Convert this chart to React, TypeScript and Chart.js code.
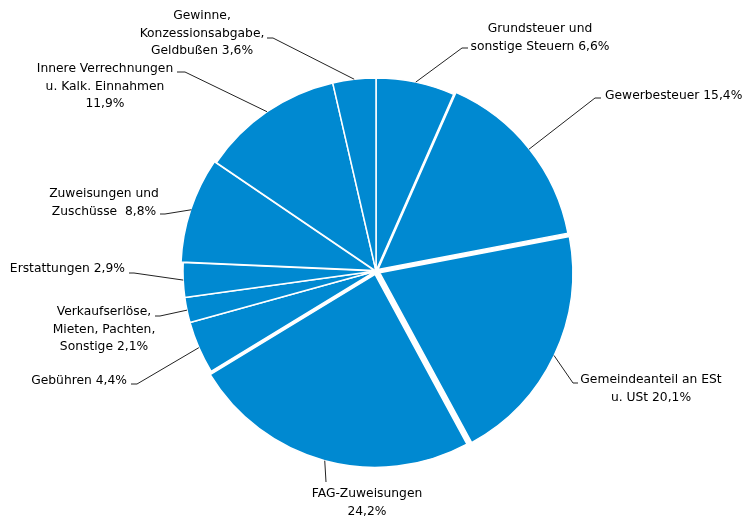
import React, { useEffect, useRef } from 'react';
import { Chart, registerables } from 'chart.js';

Chart.register(...registerables);

const CATEGORIES = [
  'Grundsteuer und sonstige Steuern',
  'Gewerbesteuer',
  'Gemeindeanteil an ESt u. USt',
  'FAG-Zuweisungen',
  'Gebühren',
  'Verkaufserlöse, Mieten, Pachten, Sonstige',
  'Erstattungen',
  'Zuweisungen und Zuschüsse',
  'Innere Verrechnungen u. Kalk. Einnahmen',
  'Gewinne, Konzessionsabgabe, Geldbußen',
];
const VALUES = [6.6, 15.4, 20.1, 24.2, 4.4, 2.1, 2.9, 8.8, 11.9, 3.6];
const LABEL_LINES = [
  ['Grundsteuer und', 'sonstige Steuern {v}'],
  ['Gewerbesteuer {v}'],
  ['Gemeindeanteil an ESt', 'u. USt {v}'],
  ['FAG-Zuweisungen', '{v}'],
  ['Gebühren {v}'],
  ['Verkaufserlöse,', 'Mieten, Pachten,', 'Sonstige {v}'],
  ['Erstattungen {v}'],
  ['Zuweisungen und', 'Zuschüsse  {v}'],
  ['Innere Verrechnungen', 'u. Kalk. Einnahmen', '{v}'],
  ['Gewinne,', 'Konzessionsabgabe,', 'Geldbußen {v}'],
];
// Chart.js arc offset is applied at 1/4 of its value
const OFFSETS = [0, 10, 16, 14, 0, 0, 0, 6, 0, 0];

// label placement relative to pie centre (elbow of leader, end of leader, first-line text anchor)
const LABEL_LAYOUT = [
  { elbow: [86, -223], end: [92, -223], text: [164, -239], align: 'center' },
  { elbow: [219, -173], end: [225, -173], text: [229, -172], align: 'left' },
  { elbow: [197, 112], end: [202, 112], text: [275, 112], align: 'center' },
  { elbow: [-50, 211], end: [-50, 211], text: [-9, 226], align: 'center' },
  { elbow: [-239, 113], end: [-245, 113], text: [-249, 113], align: 'right' },
  { elbow: [-216, 45], end: [-221, 45], text: [-272, 44], align: 'center' },
  { elbow: [-242, 2], end: [-247, 2], text: [-251, 1], align: 'right' },
  { elbow: [-211, -57], end: [-216, -57], text: [-272, -74], align: 'center' },
  { elbow: [-191, -199], end: [-199, -199], text: [-271, -199], align: 'center' },
  { elbow: [-103, -233], end: [-109, -233], text: [-174, -252], align: 'center' },
];

const fmt = (v: number) => v.toFixed(1).replace('.', ',') + '%';

const labelPlugin = {
  id: 'outsideLabels',
  afterDatasetsDraw(chart: any) {
    const ctx = chart.ctx;
    const meta = chart.getDatasetMeta(0);
    ctx.save();
    ctx.font = '12.3px "DejaVu Sans", Verdana, sans-serif';
    ctx.fillStyle = '#000000';
    ctx.strokeStyle = '#222222';
    ctx.lineWidth = 1;
    ctx.textBaseline = 'alphabetic';
    meta.data.forEach((arc: any, i: number) => {
      const p = arc.getProps(['x', 'y', 'startAngle', 'endAngle', 'outerRadius'], true);
      const mid = (p.startAngle + p.endAngle) / 2;
      const r = p.outerRadius + (OFFSETS[i] || 0) / 4;
      const sx = p.x + Math.cos(mid) * r;
      const sy = p.y + Math.sin(mid) * r;
      const L = LABEL_LAYOUT[i];
      ctx.beginPath();
      ctx.moveTo(sx, sy);
      ctx.lineTo(p.x + L.elbow[0], p.y + L.elbow[1]);
      ctx.lineTo(p.x + L.end[0], p.y + L.end[1]);
      ctx.stroke();
      ctx.textAlign = L.align;
      LABEL_LINES[i].forEach((line, j) => {
        const t = line.replace('{v}', fmt(VALUES[i]));
        ctx.fillText(t, p.x + L.text[0], p.y + L.text[1] + j * 17.5);
      });
    });
    ctx.restore();
  },
};

export default function App() {
  const ref = useRef<HTMLCanvasElement>(null);
  useEffect(() => {
    document.body.style.margin = '0';
    const chart = new Chart(ref.current!, {
      type: 'pie',
      data: {
        labels: CATEGORIES,
        datasets: [
          {
            data: VALUES,
            backgroundColor: '#0089d1',
            borderColor: '#ffffff',
            borderWidth: 1.5,
            offset: OFFSETS,
          },
        ],
      },
      options: {
        animation: false,
        responsive: true,
        maintainAspectRatio: false,
        radius: 193,
        layout: { padding: { left: 98, right: 90, top: 62, bottom: 37 } },
        plugins: { legend: { display: false }, tooltip: { enabled: false } },
      },
      plugins: [labelPlugin],
    } as any);
    return () => chart.destroy();
  }, []);
  return (
    <div style={{ width: 744, height: 517, position: 'relative' }}>
      <canvas ref={ref} />
    </div>
  );
}
